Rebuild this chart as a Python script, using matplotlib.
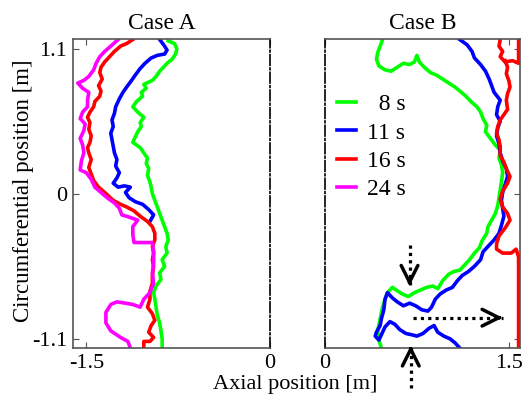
import numpy as np
import matplotlib
matplotlib.use("Agg")
import matplotlib.pyplot as plt
from matplotlib.lines import Line2D

plt.rcParams['font.family'] = ['Liberation Serif', 'DejaVu Serif']
plt.rcParams['font.size'] = 16

# Frentes de avance (x axial, y circunferencial)
caso_a_8s = [(-0.83, 1.16), (-0.78, 1.14), (-0.76, 1.10), (-0.77, 1.06), (-0.80, 1.02),
             (-0.84, 0.99), (-0.87, 0.96), (-0.90, 0.93), (-0.93, 0.89), (-0.96, 0.86),
             (-1.03, 0.83), (-1.01, 0.80), (-1.05, 0.77), (-1.04, 0.74), (-1.09, 0.70),
             (-1.12, 0.66), (-1.08, 0.62), (-1.03, 0.58), (-1.06, 0.54), (-1.05, 0.51),
             (-1.08, 0.47), (-1.10, 0.43), (-1.12, 0.39), (-1.06, 0.35), (-1.03, 0.31),
             (-1.00, 0.27), (-1.01, 0.23), (-0.99, 0.19), (-1.00, 0.14), (-0.98, 0.09),
             (-0.97, 0.05), (-0.96, 0.00), (-0.94, -0.05), (-0.92, -0.10), (-0.90, -0.15),
             (-0.88, -0.20), (-0.86, -0.25), (-0.84, -0.30), (-0.83, -0.35), (-0.85, -0.40),
             (-0.84, -0.45), (-0.88, -0.50), (-0.86, -0.55), (-0.90, -0.60), (-0.89, -0.65),
             (-0.93, -0.70), (-0.95, -0.75), (-0.94, -0.80), (-0.93, -0.86), (-0.92, -0.92),
             (-0.90, -0.98), (-0.89, -1.04), (-0.88, -1.10), (-0.88, -1.17)]

caso_a_11s = [(-0.90, 1.17), (-0.86, 1.12), (-0.84, 1.09), (-0.86, 1.06), (-0.92, 1.05),
              (-0.97, 1.03), (-1.02, 0.99), (-1.06, 0.95), (-1.10, 0.90), (-1.13, 0.86),
              (-1.17, 0.81), (-1.20, 0.77), (-1.23, 0.72), (-1.26, 0.66), (-1.27, 0.61),
              (-1.29, 0.56), (-1.28, 0.51), (-1.30, 0.46), (-1.29, 0.41), (-1.28, 0.36),
              (-1.27, 0.31), (-1.25, 0.26), (-1.26, 0.21), (-1.23, 0.16), (-1.25, 0.12),
              (-1.28, 0.08), (-1.24, 0.05), (-1.19, 0.06), (-1.14, 0.05), (-1.18, 0.01),
              (-1.15, -0.03), (-1.10, -0.06), (-1.04, -0.08), (-0.99, -0.12), (-0.95, -0.16),
              (-0.98, -0.21)]

caso_a_16s = [(-1.12, 1.17), (-1.17, 1.14), (-1.22, 1.12), (-1.27, 1.08), (-1.31, 1.04),
              (-1.35, 1.00), (-1.38, 0.96), (-1.39, 0.92), (-1.37, 0.87), (-1.40, 0.82),
              (-1.38, 0.78), (-1.39, 0.74), (-1.43, 0.70), (-1.44, 0.66), (-1.47, 0.62),
              (-1.49, 0.58), (-1.47, 0.54), (-1.48, 0.49), (-1.46, 0.44), (-1.47, 0.39),
              (-1.49, 0.35), (-1.48, 0.31), (-1.46, 0.26), (-1.48, 0.20), (-1.46, 0.15),
              (-1.44, 0.10), (-1.40, 0.05), (-1.35, 0.01), (-1.28, -0.05), (-1.22, -0.08),
              (-1.17, -0.10), (-1.11, -0.13), (-1.06, -0.17), (-1.00, -0.21), (-0.96, -0.25),
              (-0.94, -0.30), (-0.94, -0.35), (-0.96, -0.40), (-0.95, -0.45), (-0.96, -0.50),
              (-0.95, -0.55), (-0.96, -0.62), (-0.96, -0.68), (-0.98, -0.74), (-0.98, -0.80),
              (-1.00, -0.86), (-0.96, -0.91), (-0.94, -0.96), (-0.97, -1.00), (-0.99, -1.05),
              (-0.95, -1.09), (-0.98, -1.12), (-1.03, -1.12), (-1.03, -1.17)]

caso_a_24s = [(-1.24, 1.17), (-1.30, 1.12), (-1.35, 1.08), (-1.39, 1.04), (-1.42, 0.99),
              (-1.44, 0.94), (-1.48, 0.89), (-1.52, 0.86), (-1.57, 0.84), (-1.53, 0.80),
              (-1.48, 0.77), (-1.49, 0.71), (-1.49, 0.66), (-1.53, 0.62), (-1.55, 0.57),
              (-1.51, 0.53), (-1.52, 0.48), (-1.55, 0.42), (-1.53, 0.37), (-1.52, 0.31),
              (-1.54, 0.25), (-1.55, 0.18), (-1.50, 0.16), (-1.46, 0.11), (-1.43, 0.05),
              (-1.38, 0.01), (-1.33, -0.03), (-1.27, -0.07), (-1.23, -0.11), (-1.21, -0.16),
              (-1.14, -0.18), (-1.08, -0.20), (-1.12, -0.25), (-1.12, -0.31), (-1.11, -0.37),
              (-1.03, -0.37), (-0.96, -0.37), (-0.95, -0.44), (-0.95, -0.52), (-0.96, -0.60),
              (-0.95, -0.68), (-0.98, -0.75), (-1.03, -0.80), (-1.06, -0.86), (-1.12, -0.84),
              (-1.18, -0.83), (-1.25, -0.82), (-1.30, -0.84), (-1.34, -0.90), (-1.34, -0.98),
              (-1.30, -1.04), (-1.22, -1.09), (-1.16, -1.12), (-1.14, -1.17)]

caso_b_8s = [(0.47, 1.17), (0.45, 1.12), (0.43, 1.07), (0.42, 1.02), (0.44, 0.97),
             (0.49, 0.94), (0.54, 0.93), (0.59, 0.96), (0.64, 0.99), (0.69, 0.98),
             (0.73, 1.00), (0.75, 1.05), (0.77, 1.00), (0.81, 0.96), (0.86, 0.92),
             (0.91, 0.90), (0.96, 0.87), (1.01, 0.84), (1.06, 0.81), (1.10, 0.78),
             (1.15, 0.74), (1.19, 0.70), (1.24, 0.66), (1.27, 0.62), (1.29, 0.57),
             (1.32, 0.52), (1.31, 0.47), (1.35, 0.42), (1.39, 0.37), (1.43, 0.33),
             (1.42, 0.27), (1.44, 0.22), (1.45, 0.16), (1.44, 0.09), (1.43, 0.03),
             (1.42, -0.03), (1.41, -0.09), (1.39, -0.15), (1.36, -0.20), (1.33, -0.25),
             (1.32, -0.30), (1.28, -0.36), (1.26, -0.41), (1.22, -0.45), (1.18, -0.50),
             (1.14, -0.54), (1.10, -0.58), (1.05, -0.59), (1.01, -0.61), (0.96, -0.66),
             (0.92, -0.72), (0.88, -0.70), (0.83, -0.71), (0.78, -0.73), (0.73, -0.75),
             (0.68, -0.78), (0.63, -0.76), (0.58, -0.73), (0.55, -0.71), (0.51, -0.75),
             (0.49, -0.80), (0.47, -0.86), (0.45, -0.95), (0.43, -1.04), (0.44, -1.11),
             (0.46, -1.17)]

caso_b_11s = [(1.10, 1.17), (1.16, 1.13), (1.20, 1.08), (1.22, 1.03), (1.27, 0.98),
              (1.31, 0.93), (1.34, 0.87), (1.36, 0.82), (1.38, 0.77), (1.43, 0.71),
              (1.41, 0.66), (1.40, 0.60), (1.43, 0.55), (1.41, 0.50), (1.40, 0.44),
              (1.42, 0.38), (1.43, 0.31), (1.45, 0.25), (1.48, 0.19), (1.49, 0.13),
              (1.47, 0.07), (1.45, 0.01), (1.44, -0.05), (1.45, -0.11), (1.46, -0.17),
              (1.44, -0.24), (1.42, -0.30), (1.38, -0.35), (1.33, -0.40), (1.29, -0.44),
              (1.27, -0.50), (1.22, -0.55), (1.17, -0.59), (1.12, -0.62), (1.08, -0.66),
              (1.04, -0.71), (0.99, -0.73), (0.94, -0.76), (0.90, -0.80), (0.87, -0.86),
              (0.84, -0.89), (0.79, -0.88), (0.74, -0.85), (0.69, -0.83), (0.64, -0.85),
              (0.59, -0.82), (0.55, -0.79), (0.51, -0.75), (0.49, -0.80), (0.48, -0.88),
              (0.46, -0.95), (0.45, -1.00), (0.42, -1.05), (0.41, -1.08), (0.44, -1.11),
              (0.47, -1.05), (0.49, -1.01), (0.53, -0.97), (0.57, -0.99), (0.61, -1.03),
              (0.66, -1.06), (0.71, -1.07), (0.75, -1.08), (0.80, -1.06), (0.85, -1.02),
              (0.89, -1.00), (0.92, -1.05), (0.97, -1.08), (1.02, -1.10), (1.06, -1.13),
              (1.10, -1.17)]

caso_b_16s = [(1.43, 1.17), (1.42, 1.12), (1.45, 1.08), (1.43, 1.04), (1.47, 1.00),
              (1.53, 1.01), (1.58, 0.99), (1.58, 1.08), (1.58, 1.17), (np.nan, np.nan),
              (1.47, 1.01), (1.49, 0.96), (1.48, 0.91), (1.50, 0.86), (1.51, 0.81),
              (1.49, 0.76), (1.48, 0.71), (1.49, 0.64), (1.46, 0.60), (1.43, 0.56),
              (1.41, 0.51), (1.40, 0.46), (1.42, 0.41), (1.43, 0.36), (1.43, 0.29),
              (1.46, 0.24), (1.48, 0.19), (1.51, 0.13), (1.49, 0.08), (1.45, 0.02),
              (1.43, -0.04), (1.45, -0.10), (1.49, -0.15), (1.51, -0.20), (1.47, -0.26),
              (1.42, -0.32), (1.40, -0.38), (1.40, -0.42), (1.45, -0.45), (1.52, -0.45),
              (1.56, -0.42), (1.58, -0.48), (1.58, -0.80), (1.58, -1.17)]

etiquetas = ["  8 s", "11 s", "16 s", "24 s"]
colores = ["#00ff00", "#0000ff", "#ff0000", "#ff00ff"]

fig = plt.figure(figsize=(5.28, 4.03), dpi=100)
ax1 = fig.add_axes([0.138, 0.1365, 0.373, 0.767])
ax2 = fig.add_axes([0.6155, 0.1365, 0.369, 0.767])

for datos, color in zip([caso_a_8s, caso_a_11s, caso_a_16s, caso_a_24s], colores):
    d = np.array(datos)
    ax1.plot(d[:, 0], d[:, 1], color=color, lw=2.6, solid_joinstyle='round')

for datos, color in zip([caso_b_8s, caso_b_11s, caso_b_16s], colores):
    d = np.array(datos)
    ax2.plot(d[:, 0], d[:, 1], color=color, lw=2.6, solid_joinstyle='round')

ax1.set_xlim(-1.61, 0)
ax2.set_xlim(0, 1.59)
for ax in (ax1, ax2):
    ax.set_ylim(-1.17, 1.175)
    ax.set_yticks([-1.1, 0, 1.1])
    for s in ax.spines.values():
        s.set_color("#555555")
        s.set_linewidth(1.2)

ax1.set_xticks([-1.5, 0])
ax1.set_xticklabels(["-1.5", "0"])
ax1.set_yticklabels(["-1.1", "0", "1.1"])
ax1.tick_params(direction='in', length=4, top=True, right=False, pad=4,
                color="#555555", labelsize=16)
ax1.spines['right'].set_linestyle('-.')
ax1.spines['right'].set_color('black')

ax2.set_xticks([0, 1.5])
ax2.set_xticklabels(["0", "1.5"])
ax2.tick_params(direction='in', length=4, top=True, left=False, right=True,
                labelleft=False, pad=4, color="#555555", labelsize=16)
ax2.spines['left'].set_linestyle('-.')
ax2.spines['left'].set_color('black')

ax1.set_title("Case A", fontsize=17, x=0.45, pad=7)
ax2.set_title("Case B", fontsize=17, pad=7)

fig.text(0.559, 0.045, "Axial position [m]", ha='center', va='center', fontsize=16)
fig.text(0.044, 0.528, "Circumferential position [m]", ha='center', va='center',
         rotation=90, fontsize=16.5)

# Leyenda (solo en el caso B)
manejadores = [Line2D([], [], color=c, lw=2.6) for c in colores]
ax2.legend(manejadores, etiquetas, loc='upper left', bbox_to_anchor=(0.06, 0.822),
           frameon=False, fontsize=17, handlelength=0.8, handletextpad=0.5,
           labelspacing=0.285, borderpad=0, borderaxespad=0)

# Flechas punteadas
flechas = [((0.69, -0.39), (0.69, -0.70)),
           ((0.70, -1.47), (0.70, -1.15)),
           ((0.72, -0.94), (1.45, -0.94))]
for cola, punta in flechas:
    ax2.plot([cola[0], punta[0]], [cola[1], punta[1]], color='k', lw=2.3,
             linestyle=(0, (1, 1.3)), clip_on=False)
    atras = (punta[0] - 0.04 * np.sign(punta[0] - cola[0]),
             punta[1] - 0.04 * np.sign(punta[1] - cola[1]))
    ax2.annotate("", xy=punta, xytext=atras, annotation_clip=False,
                 arrowprops=dict(arrowstyle='->,head_length=1.2,head_width=0.6',
                                 lw=2.5, color='k', shrinkA=0, shrinkB=0,
                                 mutation_scale=10))

plt.savefig("out.png", dpi=100)
plt.close()
